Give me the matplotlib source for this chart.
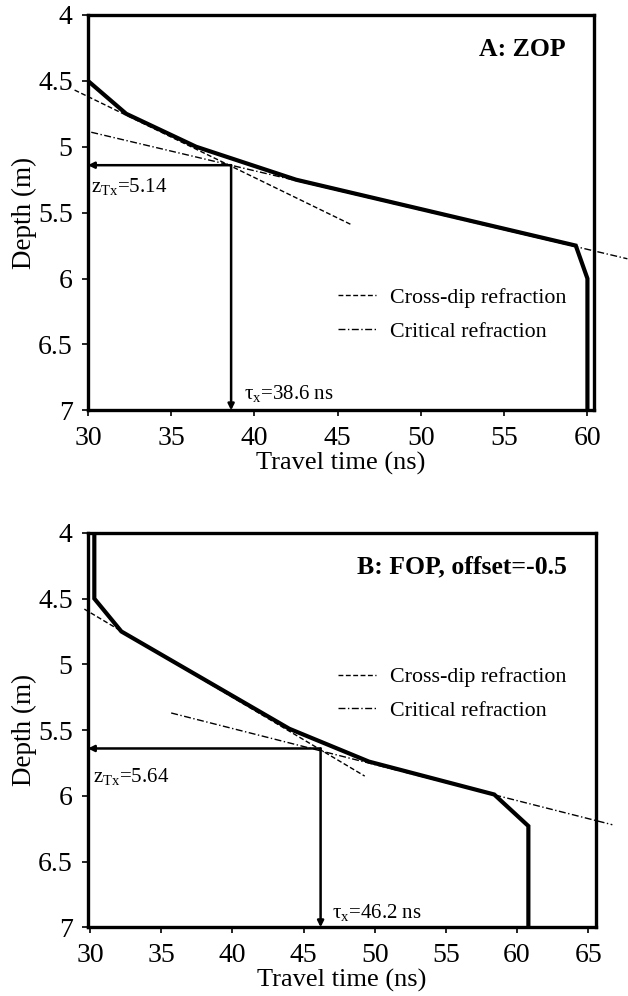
"""Travel-time vs depth picks for ZOP and FOP gathers with refraction tangents."""

import matplotlib.pyplot as plt

# --- data ---
zop_time = [30.0, 30.0, 32.3, 36.5, 42.5, 59.3, 60.0, 60.0]
zop_depth = [4.0, 4.5, 4.75, 5.0, 5.25, 5.75, 6.0, 7.0]
zop_crossdip_time = [29.2, 45.8]
zop_crossdip_depth = [4.57, 5.59]
zop_critical_time = [30.2, 62.4]
zop_critical_depth = [4.89, 5.85]
zop_tau = 38.6
zop_z = 5.14

fop_time = [30.3, 30.3, 32.2, 44.0, 49.6, 58.4, 60.8, 60.8]
fop_depth = [4.0, 4.5, 4.75, 5.49, 5.74, 5.99, 6.23, 7.0]
fop_crossdip_time = [29.6, 49.3]
fop_crossdip_depth = [4.58, 5.85]
fop_critical_time = [35.7, 66.7]
fop_critical_depth = [5.37, 6.22]
fop_tau = 46.2
fop_z = 5.64

depth_ticks = [4, 4.5, 5, 5.5, 6, 6.5, 7]
depth_labels = ['4', '4.5', '5', '5.5', '6', '6.5', '7']

FONT = 'Liberation Serif'
DASHED = (0, (3.5, 1.8))
DASHDOT = (0, (5, 1.8, 1, 1.8))

plt.rcParams['mathtext.fontset'] = 'custom'
plt.rcParams['mathtext.rm'] = FONT
plt.rcParams['mathtext.it'] = FONT + ':italic'


def draw_panel(ax, t, z, cd_t, cd_z, cr_t, cr_z, tau, zpick, title,
               xlim, xticks, title_x, leg_anchor, zlab_y, tlab_y):
    ax.plot(t, z, color='black', lw=3.0, solid_joinstyle='miter', zorder=4)
    ax.plot(cd_t, cd_z, color='black', lw=1.0, ls=DASHED, clip_on=False,
            label='Cross-dip refraction')
    ax.plot(cr_t, cr_z, color='black', lw=1.0, ls=DASHDOT, clip_on=False,
            label='Critical refraction')

    arrow = dict(arrowstyle='-|>', lw=1.8, color='black', mutation_scale=9,
                 shrinkA=0, shrinkB=0)
    ax.annotate('', xy=(xlim[0], zpick), xytext=(tau, zpick), arrowprops=arrow)
    ax.annotate('', xy=(tau, 7.0), xytext=(tau, zpick), arrowprops=arrow)

    ax.text(30.2, zlab_y, r'z$_{\mathregular{Tx}}$=%.2f' % zpick,
            fontsize=15, family=FONT, va='center', ha='left')
    ax.text(tau + 0.8, tlab_y, 'τ$_{\\mathregular{x}}$=%.1f ns' % tau,
            fontsize=15, family=FONT, va='center', ha='left')
    ax.text(title_x, 4.26, title, fontsize=18.5, family=FONT, weight='bold',
            ha='right', va='center')

    leg = ax.legend(loc='upper left', bbox_to_anchor=leg_anchor,
                    bbox_transform=ax.transData, frameon=False,
                    handlelength=1.75, handletextpad=0.65, labelspacing=0.6,
                    borderpad=0, borderaxespad=0,
                    prop={'family': FONT, 'size': 15.8})
    for line in leg.get_lines():
        line.set_linewidth(1.0)

    ax.set_xlim(*xlim)
    ax.set_ylim(7, 4)
    ax.set_yticks(depth_ticks)
    ax.set_yticklabels(depth_labels)
    ax.set_xticks(xticks)
    ax.set_xticklabels([str(x) for x in xticks])
    ax.tick_params(direction='out', length=4, width=1.2, labelsize=20, pad=7)
    for lab in ax.get_xticklabels() + ax.get_yticklabels():
        lab.set_family(FONT)
    for s in ax.spines.values():
        s.set_linewidth(2.4)
    ax.set_xlabel('Travel time (ns)', fontsize=19, family=FONT, labelpad=1)
    ax.set_ylabel('Depth (m)', fontsize=19.5, family=FONT, labelpad=1)


def main():
    fig = plt.figure(figsize=(6.28, 9.96), dpi=100)
    ax_a = fig.add_axes([0.140, 0.588, 0.806, 0.397])
    ax_b = fig.add_axes([0.140, 0.069, 0.809, 0.396])

    draw_panel(ax_a, zop_time, zop_depth, zop_crossdip_time, zop_crossdip_depth,
               zop_critical_time, zop_critical_depth, zop_tau, zop_z,
               'A: ZOP', (30.0, 60.4), [30, 35, 40, 45, 50, 55, 60],
               58.7, (45.0, 6.07), 5.30, 6.87)
    draw_panel(ax_b, fop_time, fop_depth, fop_crossdip_time, fop_crossdip_depth,
               fop_critical_time, fop_critical_depth, fop_tau, fop_z,
               'B: FOP, offset=-0.5', (29.85, 65.55),
               [30, 35, 40, 45, 50, 55, 60, 65],
               63.5, (47.4, 5.02), 5.85, 6.89)

    fig.savefig('out.png', dpi=100)
    plt.close(fig)


if __name__ == '__main__':
    main()
